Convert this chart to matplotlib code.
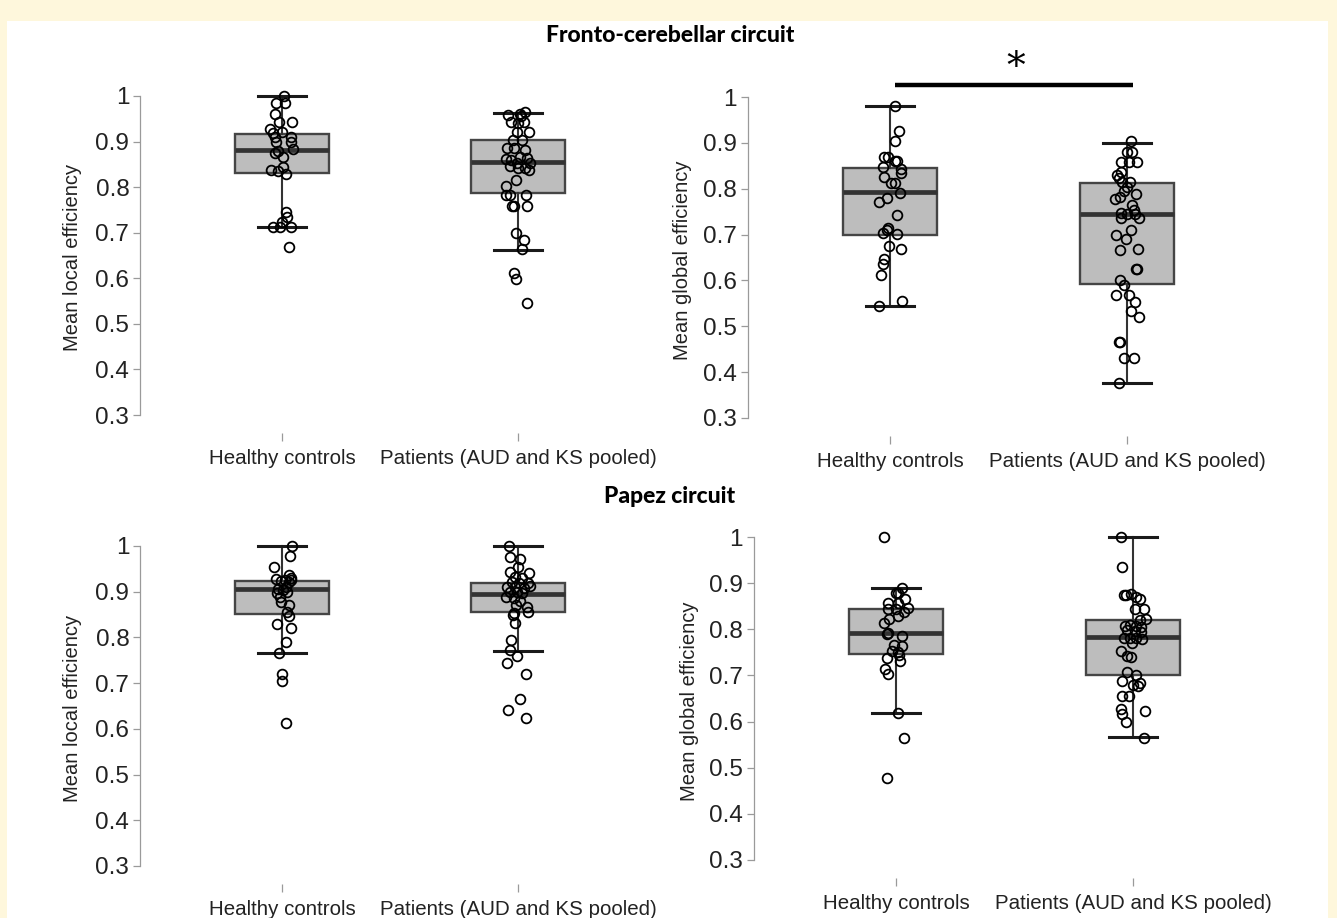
import matplotlib
matplotlib.use("Agg")
import matplotlib.pyplot as plt
from matplotlib.patches import Rectangle

plt.rcParams.update({
    'font.family': ['Liberation Sans', 'DejaVu Sans'],
    'font.size': 14,
})

W, H = 1337, 918

groups = ['Healthy controls', 'Patients (AUD and KS pooled)']
yticks = [0.3, 0.4, 0.5, 0.6, 0.7, 0.8, 0.9, 1.0]
ytick_labels = ['0.3', '0.4', '0.5', '0.6', '0.7', '0.8', '0.9', '1']

# ---- Fronto-cerebellar, local efficiency
fc_local_hc = [1.0, 0.985, 0.985, 0.96, 0.943, 0.943, 0.927, 0.918, 0.92, 0.909, 0.91, 0.90, 0.90, 0.884,
               0.88, 0.874, 0.867, 0.838, 0.836, 0.844, 0.828, 0.745, 0.735, 0.724, 0.713, 0.713, 0.713, 0.669]
fc_local_hc_jit = [0.008, -0.025, 0.014, -0.028, -0.011, 0.044, -0.051, -0.04, 0.0, -0.03, 0.037, -0.025, 0.038,
                   0.048, -0.016, -0.03, 0.003, -0.047, -0.018, 0.006, 0.017, 0.017, 0.023, 0.0, -0.037, -0.008,
                   0.04, 0.03]
fc_local_pt = [0.959, 0.96, 0.964, 0.957, 0.943, 0.943, 0.94, 0.92, 0.92, 0.903, 0.904, 0.885, 0.885, 0.882,
               0.861, 0.86, 0.867, 0.863, 0.854, 0.853, 0.846, 0.841, 0.843, 0.838, 0.816, 0.803, 0.783, 0.783,
               0.782, 0.759, 0.759, 0.759, 0.70, 0.684, 0.664, 0.611, 0.598, 0.546]
fc_local_pt_jit = [-0.042, 0.007, 0.031, 0.014, -0.031, 0.024, 0.0, 0.047, -0.003, -0.021, 0.018, -0.045, -0.018,
                   0.028, -0.049, -0.028, 0.007, 0.038, -0.004, 0.049, -0.035, 0.0, 0.028, 0.047, -0.01, -0.049,
                   -0.049, -0.032, 0.035, -0.024, -0.018, 0.04, -0.007, 0.024, 0.018, -0.018, -0.01, 0.04]

# ---- Fronto-cerebellar, global efficiency
fc_global_hc = [0.98, 0.926, 0.903, 0.87, 0.87, 0.86, 0.86, 0.847, 0.842, 0.834, 0.825, 0.813, 0.813, 0.791,
                0.779, 0.772, 0.743, 0.715, 0.709, 0.703, 0.702, 0.676, 0.669, 0.647, 0.636, 0.612, 0.556, 0.544]
fc_global_hc_jit = [0.021, 0.038, 0.02, -0.025, -0.007, 0.021, 0.031, -0.028, 0.047, 0.047, -0.025, 0.004, 0.021,
                    0.042, -0.014, -0.045, 0.028, -0.007, -0.014, -0.031, 0.028, -0.003, 0.047, -0.025, -0.031,
                    -0.04, 0.049, -0.045]
fc_global_pt = [0.903, 0.881, 0.881, 0.859, 0.859, 0.859, 0.837, 0.83, 0.823, 0.815, 0.815, 0.804, 0.794, 0.788,
                0.781, 0.777, 0.765, 0.754, 0.748, 0.744, 0.744, 0.736, 0.736, 0.711, 0.70, 0.69, 0.666, 0.669,
                0.625, 0.624, 0.60, 0.59, 0.568, 0.568, 0.554, 0.534, 0.521, 0.466, 0.465, 0.431, 0.431, 0.376]
fc_global_pt_jit = [0.018, 0.0, 0.021, -0.024, 0.01, 0.042, -0.024, -0.042, -0.035, -0.021, 0.014, 0.0, -0.014,
                    0.04, -0.028, -0.049, 0.021, 0.028, -0.024, 0.0, 0.035, -0.024, 0.051, 0.018, -0.045, -0.003,
                    -0.028, 0.047, 0.042, 0.04, -0.031, -0.014, -0.045, 0.007, 0.035, 0.018, 0.049, -0.035,
                    -0.031, -0.014, 0.028, -0.032]

# ---- Papez, local efficiency
pz_local_hc = [1.0, 0.978, 0.953, 0.927, 0.937, 0.93, 0.926, 0.923, 0.922, 0.911, 0.907, 0.925, 0.904, 0.898,
               0.899, 0.889, 0.878, 0.871, 0.856, 0.847, 0.829, 0.82, 0.791, 0.767, 0.719, 0.705, 0.613]
pz_local_hc_jit = [0.042, 0.032, -0.034, -0.024, 0.028, 0.037, 0.011, -0.003, 0.028, 0.018, -0.017, 0.04, 0.004,
                   -0.02, 0.023, -0.01, -0.003, 0.028, 0.023, 0.028, -0.02, 0.037, 0.018, -0.014, 0.001, 0.001,
                   0.016]
pz_local_pt = [1.0, 0.977, 0.971, 0.953, 0.944, 0.942, 0.933, 0.93, 0.922, 0.92, 0.92, 0.911, 0.91, 0.909, 0.912,
               0.90, 0.899, 0.898, 0.889, 0.886, 0.88, 0.871, 0.867, 0.856, 0.853, 0.85, 0.832, 0.794, 0.772,
               0.759, 0.743, 0.72, 0.665, 0.641, 0.624]
pz_local_pt_jit = [-0.037, -0.032, 0.01, -0.001, -0.032, 0.048, -0.011, 0.017, -0.025, 0.003, 0.041, -0.047,
                   -0.011, 0.024, 0.049, -0.004, -0.032, 0.017, -0.049, -0.016, 0.01, -0.007, 0.038, 0.041, -0.018,
                   -0.021, -0.011, -0.028, -0.032, -0.004, -0.047, 0.035, 0.007, -0.042, 0.035]

# ---- Papez, global efficiency
pz_global_hc = [1.0, 0.889, 0.878, 0.878, 0.866, 0.857, 0.857, 0.844, 0.844, 0.846, 0.837, 0.822, 0.828, 0.814,
                0.792, 0.79, 0.785, 0.767, 0.763, 0.752, 0.75, 0.745, 0.738, 0.732, 0.713, 0.704, 0.619, 0.565,
                0.477]
pz_global_hc_jit = [-0.052, 0.025, 0.0, 0.007, 0.04, -0.035, 0.007, -0.035, 0.0, 0.049, 0.035, -0.028, 0.007,
                    -0.052, -0.035, -0.04, 0.025, -0.007, 0.025, -0.017, 0.007, 0.014, -0.04, 0.017, -0.045,
                    -0.035, 0.007, 0.032, -0.04]
pz_global_pt = [1.0, 0.934, 0.875, 0.875, 0.876, 0.871, 0.866, 0.844, 0.844, 0.822, 0.82, 0.808, 0.81, 0.808,
                0.806, 0.798, 0.797, 0.795, 0.781, 0.782, 0.782, 0.779, 0.77, 0.754, 0.743, 0.741, 0.707, 0.70,
                0.687, 0.68, 0.684, 0.677, 0.655, 0.655, 0.628, 0.623, 0.616, 0.60, 0.565]
pz_global_pt_jit = [-0.052, -0.047, -0.04, -0.031, -0.007, 0.014, 0.031, 0.007, 0.047, 0.054, 0.028, -0.035,
                    -0.014, 0.014, 0.035, -0.025, 0.007, 0.035, -0.04, -0.014, 0.014, 0.04, -0.003, -0.052, -0.025,
                    -0.01, -0.025, 0.011, -0.047, 0.0, 0.028, 0.021, -0.047, -0.017, -0.049, 0.049, -0.045,
                    -0.031, 0.045]

# box summaries per panel: [HC, patients]
fc_local_box = {'q1': [0.830, 0.787], 'med': [0.882, 0.856], 'q3': [0.917, 0.904],
                'lo': [0.712, 0.663], 'hi': [1.0, 0.962]}
fc_global_box = {'q1': [0.700, 0.592], 'med': [0.792, 0.744], 'q3': [0.845, 0.812],
                 'lo': [0.545, 0.377], 'hi': [0.980, 0.900]}
pz_local_box = {'q1': [0.852, 0.855], 'med': [0.906, 0.895], 'q3': [0.924, 0.920],
                'lo': [0.766, 0.771], 'hi': [1.0, 1.0]}
pz_global_box = {'q1': [0.747, 0.700], 'med': [0.792, 0.783], 'q3': [0.845, 0.821],
                 'lo': [0.619, 0.566], 'hi': [0.889, 1.0]}

XLIM = (0.4, 2.6)
YLIM = (0.26, 1.03)


def axes_rect(x1, x2, y1, y03):
    """Axes rect (figure fraction) from pixel positions of group 1/2 and of y=1 / y=0.3."""
    dx = x2 - x1
    dy = (y03 - y1) / 0.7
    left = x1 + (XLIM[0] - 1) * dx
    right = x1 + (XLIM[1] - 1) * dx
    top = y1 - (YLIM[1] - 1) * dy
    bottom = y1 + (1 - YLIM[0]) * dy
    return [left / W, 1 - bottom / H, (right - left) / W, (bottom - top) / H]


def draw_panel(ax, box, hc, hc_jit, pt, pt_jit, ylabel, ylabelpad=7):
    stats = []
    for i in range(2):
        stats.append({'q1': box['q1'][i], 'med': box['med'][i], 'q3': box['q3'][i],
                      'whislo': box['lo'][i], 'whishi': box['hi'][i], 'fliers': []})
    ax.bxp(stats, positions=[1, 2], widths=0.4, capwidths=0.2, patch_artist=True,
           showfliers=False,
           boxprops=dict(facecolor='#bdbdbd', edgecolor='#454545', linewidth=1.7),
           medianprops=dict(color='#333333', linewidth=3.4, solid_capstyle='butt'),
           whiskerprops=dict(color='#333333', linewidth=1.5),
           capprops=dict(color='#1a1a1a', linewidth=2.2))
    for pos, vals, jit in [(1, hc, hc_jit), (2, pt, pt_jit)]:
        xs = [pos + j for j in jit]
        ax.plot(xs, vals, 'o', mfc='none', mec='black', ms=7, mew=1.3, clip_on=False, zorder=5)

    ax.set_xlim(*XLIM)
    ax.set_ylim(*YLIM)
    for s in ['top', 'right', 'bottom']:
        ax.spines[s].set_visible(False)
    ax.spines['left'].set_bounds(0.3, 1.0)
    ax.spines['left'].set_color('#9a9a9a')
    ax.spines['left'].set_linewidth(0.9)
    ax.set_yticks(yticks)
    ax.set_yticklabels(ytick_labels)
    ax.set_xticks([1, 2])
    ax.set_xticklabels(groups)
    ax.tick_params(axis='y', length=5, width=0.9, color='#9a9a9a', labelsize=17.5,
                   labelcolor='#222222', pad=3)
    ax.tick_params(axis='x', length=6, width=0.9, color='#9a9a9a', labelsize=14.8,
                   labelcolor='#222222', pad=5)
    ax.set_ylabel(ylabel, fontsize=14.5, color='#222222', labelpad=ylabelpad)
    ax.patch.set_alpha(0)


fig = plt.figure(figsize=(W / 100, H / 100), dpi=100)
fig.patch.set_facecolor('#fef7dc')
# white page behind the panels
bg = fig.add_axes([0, 0, 1, 1], zorder=-10)
bg.set_xlim(0, W)
bg.set_ylim(H, 0)
bg.axis('off')
bg.add_patch(Rectangle((7, 21), 1328 - 7, H - 21, facecolor='white', edgecolor='none'))

ax1 = fig.add_axes(axes_rect(282, 518, 96, 415))
draw_panel(ax1, fc_local_box, fc_local_hc, fc_local_hc_jit, fc_local_pt, fc_local_pt_jit,
           'Mean local efficiency', ylabelpad=10)

ax2 = fig.add_axes(axes_rect(890, 1127, 97, 418))
draw_panel(ax2, fc_global_box, fc_global_hc, fc_global_hc_jit, fc_global_pt, fc_global_pt_jit,
           'Mean global efficiency', ylabelpad=8)
# significance bar
ax2.plot([1.02, 2.025], [1.026, 1.026], color='black', lw=3.2, clip_on=False, solid_capstyle='butt')
ax2.text(1.53, 1.042, '*', fontsize=27, ha='center', va='baseline', family='DejaVu Serif')

ax3 = fig.add_axes(axes_rect(282, 518, 546, 866))
draw_panel(ax3, pz_local_box, pz_local_hc, pz_local_hc_jit, pz_local_pt, pz_local_pt_jit,
           'Mean local efficiency', ylabelpad=10)

ax4 = fig.add_axes(axes_rect(896, 1133, 537, 860))
draw_panel(ax4, pz_global_box, pz_global_hc, pz_global_hc_jit, pz_global_pt, pz_global_pt_jit,
           'Mean global efficiency', ylabelpad=7)

fig.text(670 / W, 1 - 35 / H, 'Fronto-cerebellar circuit', ha='center', va='center',
         fontsize=16.5, fontweight='black', family='Lato')
fig.text(670 / W, 1 - 496 / H, 'Papez circuit', ha='center', va='center',
         fontsize=16.5, fontweight='black', family='Lato')

fig.savefig('out.png', dpi=100, facecolor=fig.get_facecolor())
